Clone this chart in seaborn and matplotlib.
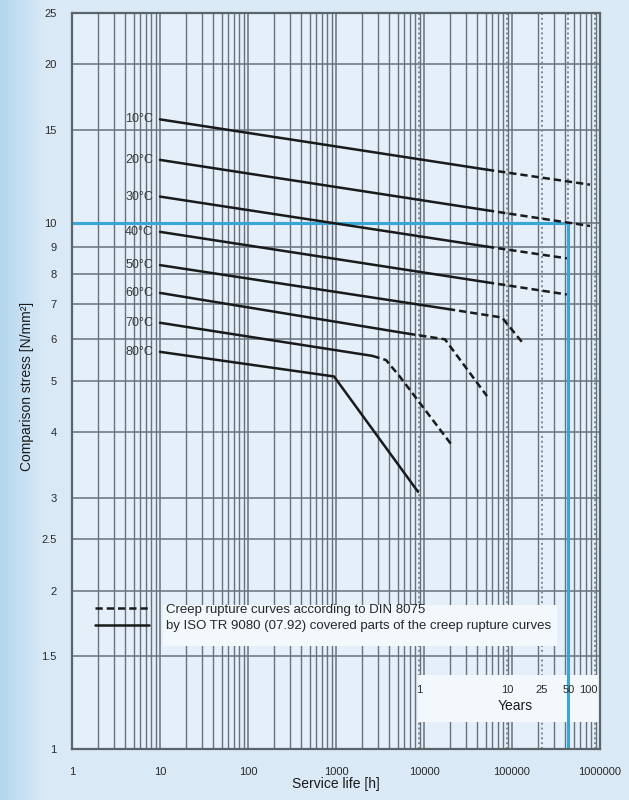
# Creep rupture curves: comparison stress vs. service life at different temperatures

import numpy as np
import seaborn as sns
import matplotlib.pyplot as plt
from matplotlib import font_manager
from matplotlib.lines import Line2D
from matplotlib.patches import Rectangle
from matplotlib.ticker import FixedLocator, FixedFormatter, NullLocator

# Values (service life in hours, stress in N/mm^2)
temps = ['10°C', '20°C', '30°C', '40°C', '50°C', '60°C', '70°C', '80°C']
solid_hours = [[10, 52000], [10, 52000], [10, 52000], [10, 52000],
               [10, 18700], [10, 6600], [10, 2600], [10, 950, 8550]]
solid_stress = [[15.7, 12.6], [13.15, 10.55], [11.2, 9.0], [9.6, 7.7],
                [8.3, 6.85], [7.35, 6.15], [6.45, 5.58], [5.68, 5.1, 3.08]]
dashed_hours = [[52000, 770000], [52000, 770000], [52000, 420000], [52000, 420000],
                [18700, 77000, 133000], [6600, 17300, 52000],
                [2600, 3700, 5300, 21400], []]
dashed_stress = [[12.6, 11.8], [10.55, 9.85], [9.0, 8.55], [7.7, 7.3],
                 [6.85, 6.6, 5.9], [6.15, 6.0, 4.68],
                 [5.58, 5.48, 5.1, 3.75], []]

stress_ticks = [1, 1.5, 2, 2.5, 3, 4, 5, 6, 7, 8, 9, 10, 15, 20, 25]
stress_labels = ['1', '1.5', '2', '2.5', '3', '4', '5', '6', '7', '8', '9', '10', '15', '20', '25']
hour_ticks = [1, 10, 100, 1000, 10000, 100000, 1000000]
hour_labels = ['1', '10', '100', '1000', '10000', '100000', '1000000']
year_marks = [1, 10, 25, 50, 100]
hours_per_year = 8760
design_stress = 10
design_years = 50

legend_labels = ['Creep rupture curves according to DIN 8075',
                 'by ISO TR 9080 (07.92) covered parts of the creep rupture curves']

# Fonts
sns.set_style("white")
installed = {f.name for f in font_manager.fontManager.ttflist}
narrow = 'Liberation Sans Narrow' if 'Liberation Sans Narrow' in installed else 'Liberation Sans'
plt.rcParams['font.family'] = ['Liberation Sans', 'DejaVu Sans']

line_color = '#1a1a1a'
grid_color = '#66717b'
blue = '#3aa6d6'
dash_pattern = (0, (2.9, 1.6))

fig = plt.figure(figsize=(6.29, 8), dpi=100)

# Light blue page background, darker at the left edge
bg = fig.add_axes([0, 0, 1, 1], zorder=-10)
cols = np.linspace(0, 1, 629)
fade = np.clip(cols * 629 / 45, 0, 1)
left_rgb = np.array([0.71, 0.84, 0.94])
page_rgb = np.array([0.855, 0.915, 0.965])
img = left_rgb[None, :] * (1 - fade[:, None]) + page_rgb[None, :] * fade[:, None]
bg.imshow(img[None, :, :], aspect='auto', extent=[0, 1, 0, 1])
bg.axis('off')

ax = fig.add_axes([72 / 629, 1 - 749 / 800, 528 / 629, 736 / 800])
ax.set_facecolor('#e4eff9')
ax.set_xscale('log')
ax.set_yscale('log')
ax.set_xlim(hour_ticks[0], hour_ticks[-1])
ax.set_ylim(stress_ticks[0], stress_ticks[-1])

# Grid
ax.xaxis.set_major_locator(FixedLocator(hour_ticks))
ax.xaxis.set_major_formatter(FixedFormatter(hour_labels))
ax.xaxis.set_minor_locator(FixedLocator([m * 10 ** d for d in range(6) for m in range(2, 10)]))
ax.yaxis.set_major_locator(FixedLocator(stress_ticks))
ax.yaxis.set_major_formatter(FixedFormatter(stress_labels))
ax.yaxis.set_minor_locator(NullLocator())
ax.grid(True, which='major', axis='both', color=grid_color, lw=1.1)
ax.grid(True, which='minor', axis='x', color=grid_color, lw=1.0)
ax.set_axisbelow(True)

ax.tick_params(which='both', length=0)
ax.tick_params(axis='x', pad=13, labelsize=8, labelcolor='#2a2a2a')
ax.tick_params(axis='y', pad=11, labelsize=8, labelcolor='#2a2a2a')
for s in ax.spines.values():
    s.set_color('#5b636b')
    s.set_linewidth(1.6)

# Year marks
for yr in year_marks:
    ax.axvline(yr * hours_per_year, color='#7f8891', lw=1.4, ls=(0, (1, 1.5)), zorder=1)

# White boxes for the legend and the years scale
ax.add_patch(Rectangle((0.172, 0.140), 0.747, 0.056, transform=ax.transAxes,
                       facecolor='#f3f8fc', edgecolor='none', zorder=1.5))
ax.add_patch(Rectangle((0.655, 0.037), 0.345, 0.064, transform=ax.transAxes,
                       facecolor='#f3f8fc', edgecolor='none', zorder=1.5))

# Design point lines
ax.hlines(design_stress, hour_ticks[0], design_years * hours_per_year, color=blue, lw=2.2, zorder=2)
ax.vlines(design_years * hours_per_year, stress_ticks[0], design_stress, color=blue, lw=2.2, zorder=2)

# Curves
for i, t in enumerate(temps):
    sns.lineplot(x=solid_hours[i], y=solid_stress[i], ax=ax, color=line_color, lw=1.8,
                 estimator=None, sort=False, legend=False, zorder=3)
    if dashed_hours[i]:
        sns.lineplot(x=dashed_hours[i], y=dashed_stress[i], ax=ax, color=line_color, lw=1.8,
                     linestyle=dash_pattern, estimator=None, sort=False, legend=False, zorder=3)
    ax.annotate(t, (solid_hours[i][0], solid_stress[i][0]), xytext=(-5, 0),
                textcoords='offset points', ha='right', va='center',
                fontsize=9, color='#3a3a3a', zorder=4)

# Years scale labels
trans = ax.get_xaxis_transform()
for yr in year_marks:
    off = -5 if yr == 100 else 0
    ax.annotate(str(yr), (yr * hours_per_year, 0.080), xycoords=trans, xytext=(off, 0),
                textcoords='offset points', ha='center', va='center',
                fontsize=8, color='#2a2a2a', zorder=4)
ax.text(0.839, 0.058, 'Years', transform=ax.transAxes, ha='center', va='center',
        fontsize=10, family=narrow, color='#1a1a1a', zorder=4)

# Legend
handles = [Line2D([], [], color=line_color, lw=1.8, linestyle=dash_pattern),
           Line2D([], [], color=line_color, lw=1.8)]
leg = ax.legend(handles, legend_labels, loc='upper left', bbox_to_anchor=(0.043, 0.198),
                frameon=False, handlelength=4.1, handletextpad=1.3, labelspacing=0.35,
                borderpad=0, borderaxespad=0, prop={'family': narrow, 'size': 9.5})
leg.set_zorder(5)

ax.set_xlabel('Service life [h]', family=narrow, fontsize=10, color='#1a1a1a')
ax.set_ylabel('Comparison stress [N/mm²]', family=narrow, fontsize=10, color='#1a1a1a')
ax.xaxis.set_label_coords(0.5, -0.038)
ax.yaxis.set_label_coords(-0.072, 0.492)

fig.savefig('out.png', dpi=100)
